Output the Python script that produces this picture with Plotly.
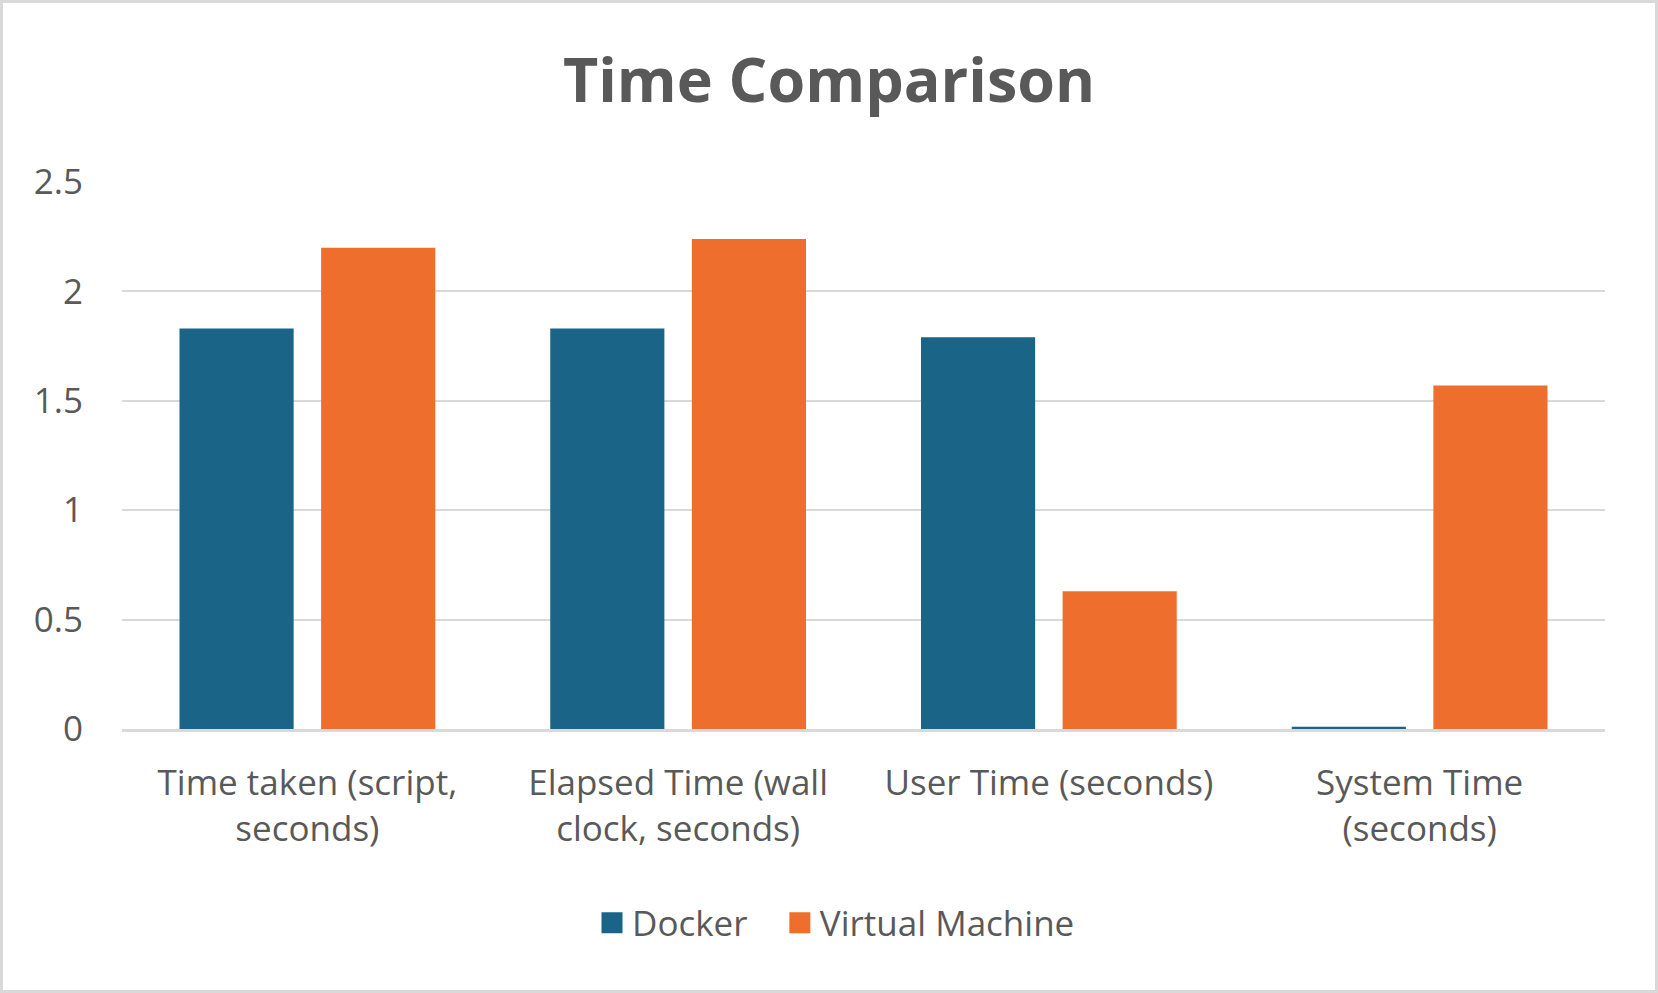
import plotly.graph_objects as go

categories = ["Time taken (script,<br>seconds)", "Elapsed Time (wall<br>clock, seconds)",
              "User Time (seconds)", "System Time<br>(seconds)"]
docker = [1.83, 1.83, 1.79, 0.01]
vm = [2.20, 2.24, 0.63, 1.57]
y_ticks = [0, 0.5, 1, 1.5, 2, 2.5]
y_ticktext = ["0", "0.5", "1", "1.5", "2", "2.5"]
legend_names = ["Docker", "Virtual Machine"]

W, H = 1658, 993
ml, mr, mt, mb = 122, 53, 182, 264
FONT = "Open Sans"
GREY = "#595959"
C_DOCKER = "#1A6487"
C_VM = "#EE6E2D"

fig = go.Figure()
fig.add_trace(go.Bar(name=legend_names[0], x=categories, y=docker, showlegend=False,
                     marker=dict(color=C_DOCKER, line=dict(width=0))))
fig.add_trace(go.Bar(name=legend_names[1], x=categories, y=vm, showlegend=False,
                     marker=dict(color=C_VM, line=dict(width=0))))
# legend entries with larger square swatches
for name, col, pad in [(legend_names[0], C_DOCKER, "\u00a0\u00a0\u00a0"), (legend_names[1], C_VM, "")]:
    fig.add_trace(go.Scatter(name=name + pad, x=[None], y=[None], mode="markers",
                             marker=dict(symbol="square", size=16, color=col,
                                         line=dict(color=col, width=5))))

pw = W - ml - mr
ph = H - mt - mb
fig.add_shape(type="rect", xref="paper", yref="paper",
              x0=-(ml - 1.5) / pw, x1=1 + (mr - 1.5) / pw,
              y0=-(mb - 1.5) / ph, y1=1 + (mt - 1.5) / ph,
              line=dict(color="#D9D9D9", width=3), layer="below")

fig.update_layout(
    width=W, height=H,
    margin=dict(l=ml, r=mr, t=mt, b=mb, autoexpand=False),
    paper_bgcolor="white", plot_bgcolor="white",
    barmode="group", bargap=0.236, bargroupgap=0.194,
    title=dict(text="<b>Time Comparison</b>", x=0.5, xref="container", y=1 - 81 / H, yanchor="middle",
               xanchor="center", font=dict(family=FONT, size=61, color=GREY)),
    font=dict(family=FONT, size=35, color=GREY),
    legend=dict(orientation="h", x=(836 - ml) / pw, xanchor="center", xref="paper",
                y=-(923 - (H - mb)) / ph, yanchor="middle",
                font=dict(family=FONT, size=35, color=GREY), itemwidth=30,
                itemsizing="trace"),
    showlegend=True,
)
fig.update_xaxes(showline=True, linecolor="#D9D9D9", linewidth=3, ticks="",
                 ticklabelstandoff=21, tickangle=0, automargin=False,
                 tickfont=dict(family=FONT, size=35, color=GREY))
fig.update_yaxes(range=[0, 2.5], tickvals=y_ticks, ticktext=y_ticktext,
                 showgrid=True, gridcolor="#D9D9D9", gridwidth=2, zeroline=False,
                 showline=False, ticks="", ticklabelstandoff=38, automargin=False,
                 tickfont=dict(family=FONT, size=35, color=GREY))

fig.write_html("out.html", config={"displayModeBar": False},
               post_script="document.body.style.margin='0';document.body.style.overflow='hidden';")
